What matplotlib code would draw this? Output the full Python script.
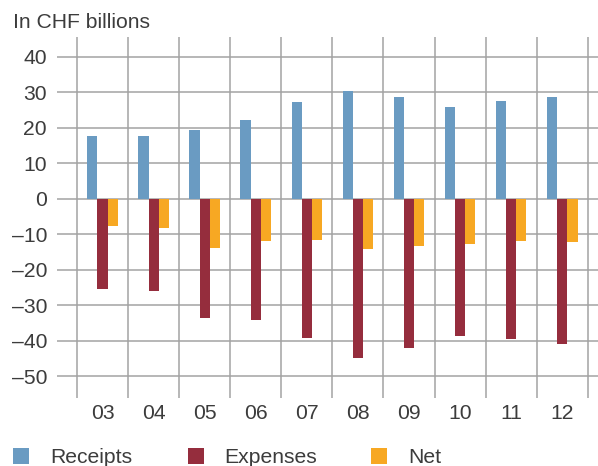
import matplotlib
matplotlib.use("Agg")
import matplotlib.pyplot as plt
from matplotlib.patches import Rectangle
import numpy as np

# ---- data ----
years = ["03", "04", "05", "06", "07", "08", "09", "10", "11", "12"]
receipts = [17.7, 17.7, 19.4, 22.3, 27.3, 30.4, 28.7, 25.9, 27.6, 28.7]
expenses = [-25.4, -25.9, -33.5, -34.1, -39.2, -44.8, -42.0, -38.6, -39.4, -40.8]
net = [-7.6, -8.2, -13.8, -11.8, -11.5, -14.1, -13.2, -12.7, -11.8, -12.1]
series_names = ["Receipts", "Expenses", "Net"]
yticks = [-50, -40, -30, -20, -10, 0, 10, 20, 30, 40]
title = "In CHF billions"

colors = ["#6a9bc2", "#952d3d", "#f7a823"]
grid_c = "#a3a3a3"
text_c = "#3c3c3c"
FS = 15.2

plt.rcParams["font.family"] = ["Liberation Sans", "DejaVu Sans"]

W, H = 598, 466
fig = plt.figure(figsize=(W / 100, H / 100), dpi=100)
ax = fig.add_axes([57 / W, 68 / H, (598 - 57) / W, (398 - 37) / H])

x = np.arange(len(years))
bw = 0.2
for i, vals in enumerate([receipts, expenses, net]):
    ax.bar(x + (i - 1) * bw, vals, width=bw, color=colors[i], zorder=3,
           linewidth=0)

ax.set_xlim(-0.892, 9.70)
ax.set_ylim(-56.06, 45.63)

for t in yticks:
    ax.axhline(t, color=grid_c, lw=1.1, zorder=1)
for b in np.arange(len(years) + 1) - 0.5:
    ax.axvline(b, color=grid_c, lw=1.1, zorder=1)

for s in ax.spines.values():
    s.set_visible(False)

ax.set_yticks(yticks)
ax.set_yticklabels([f"{t}".replace("-", "\u2013") for t in yticks])
ax.set_xticks(x)
ax.set_xticklabels(years)
ax.tick_params(axis="y", length=0, pad=7.2, labelsize=FS, labelcolor=text_c)
ax.tick_params(axis="x", length=0, pad=4.0, labelsize=FS, labelcolor=text_c)

fig.text(13 / W, 1 - 27.5 / H, title, fontsize=FS, color=text_c,
         ha="left", va="baseline")

# legend
sq_x = [13, 188, 371]
tx_x = [50, 224, 408]
for i, name in enumerate(series_names):
    fig.add_artist(Rectangle((sq_x[i] / W, (H - 464) / H), 16 / W, 16 / H,
                             transform=fig.transFigure, color=colors[i],
                             linewidth=0))
    fig.text(tx_x[i] / W, (H - 463) / H, name, fontsize=FS, color=text_c,
             ha="left", va="baseline")

fig.savefig("out.png", dpi=100)
